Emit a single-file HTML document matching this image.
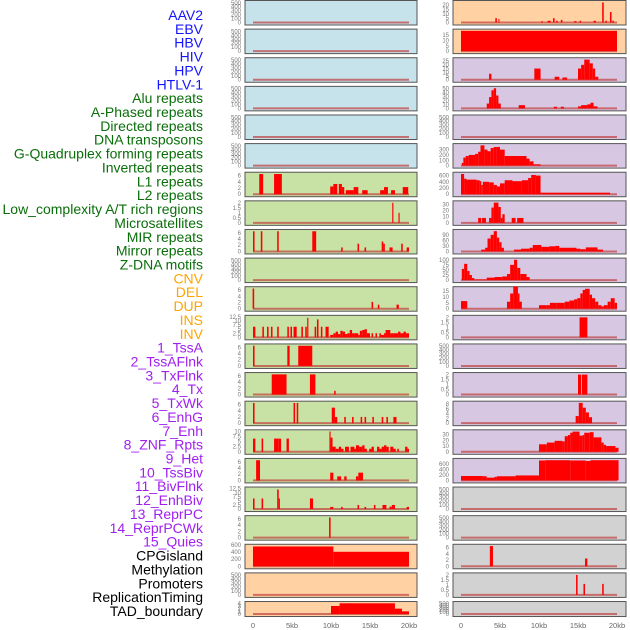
<!DOCTYPE html>
<html><head><meta charset="utf-8">
<style>
body{margin:0;background:#fff;}
svg{display:block;font-family:"Liberation Sans",sans-serif;}
</style></head>
<body>
<svg id="chart" width="630" height="630" viewBox="0 0 630 630" xmlns="http://www.w3.org/2000/svg"></svg>
<script>
// ---- data ----
const trackLabels = ["AAV2","EBV","HBV","HIV","HPV","HTLV-1","Alu repeats","A-Phased repeats","Directed repeats","DNA transposons","G-Quadruplex forming repeats","Inverted repeats","L1 repeats","L2 repeats","Low_complexity A/T rich regions","Microsatellites","MIR repeats","Mirror repeats","Z-DNA motifs","CNV","DEL","DUP","INS","INV","1_TssA","2_TssAFlnk","3_TxFlnk","4_Tx","5_TxWk","6_EnhG","7_Enh","8_ZNF_Rpts","9_Het","10_TssBiv","11_BivFlnk","12_EnhBiv","13_ReprPC","14_ReprPCWk","15_Quies","CPGisland","Methylation","Promoters","ReplicationTiming","TAD_boundary"];
const labelGroups = [6,13,5,15,5];
const xTickLabels = ["0","5kb","10kb","15kb","20kb"];
const xTickValues = [0,5,10,15,20];
const emptyTicks = [0,100,200,300,400,500];

// left column segments [startKb, endKb, value]
const segL7 = [[0.8,1.3,6.5],[2.7,3.7,6.5],[9.9,10.3,2.5],[10.3,10.8,3.3],[11.0,11.4,3.3],[11.4,11.7,2.3],[11.9,12.9,1.3],[12.9,13.5,2.3],[14.0,14.7,1.3],[16.3,16.8,1.3],[16.8,17.3,2.3],[17.7,18.2,1.3],[19.2,19.9,2.3]];
const segL8 = [[17.85,18.0,2.0],[18.65,18.8,1.0]];
const segL9 = [[0.0,0.2,6.5],[1.0,1.2,6.5],[3.1,3.3,6.5],[7.6,8.1,6.5],[11.3,11.5,1.3],[13.4,13.6,2.5],[14.3,14.5,1.3],[16.5,16.7,3.2],[16.7,16.9,2.5],[17.5,17.9,1.3],[19.0,19.2,2.5],[19.7,20.0,1.3]];
const segL11 = [[-0.05,0.15,6.5],[15.2,15.4,2.2],[16.0,16.2,1.3],[18.4,18.7,1.3]];
const segL12 = [[0.0,0.3,6.5],[1.2,1.4,6.5],[1.8,2.0,6.5],[2.3,2.5,6.5],[3.1,3.3,6.5],[4.4,4.6,6.5],[4.8,5.0,6.5],[5.2,5.6,6.5],[6.2,6.4,6.5],[6.7,6.9,6.5],[6.95,7.1,12],[7.9,8.1,6.5],[8.2,8.4,11],[8.7,8.9,6.5],[9.3,9.7,6.5],[9.9,10.3,1.5],[10.3,10.6,2.5],[10.6,10.9,3.5],[10.9,11.2,2],[11.2,11.5,4],[11.5,11.8,3.5],[11.8,12.1,2],[12.1,12.4,2.5],[12.4,12.7,4.5],[12.7,13.0,2.5],[13.0,13.5,2.5],[13.5,13.7,1.5],[13.7,14.0,4],[14.0,14.3,4.5],[14.3,14.6,5],[14.6,15.0,2.5],[15.2,15.4,2.5],[15.7,15.9,2.5],[16.2,16.4,2.5],[16.4,16.8,1.5],[16.8,17.0,2.5],[17.0,17.3,4.5],[17.3,17.6,4.5],[17.6,18.0,2.5],[18.0,18.6,2.5],[18.6,18.9,3.5],[18.9,19.3,2.5],[19.3,19.6,3.5],[19.6,20.0,2.5]];
const segL13 = [[0.0,0.2,6.5],[4.4,4.7,6.5],[5.8,7.6,6.5]];
const segL14 = [[2.4,4.3,6.5],[7.3,8.0,6.5],[10.4,10.6,1.2]];
const segL15 = [[0.0,0.2,6.5],[5.2,5.4,6.5],[5.6,5.8,6.5],[10.1,10.5,5],[10.5,10.8,2],[11.7,11.9,2],[12.7,12.9,2],[13.8,14.0,2],[14.3,14.5,2],[15.3,15.5,2],[16.5,16.7,2],[17.1,17.3,2],[18.0,18.4,2]];
const segL16 = [[0.0,0.3,6.5],[1.1,1.3,6.5],[2.7,3.3,6.5],[3.3,3.6,6.5],[4.3,4.6,6.5],[9.8,9.95,10],[9.95,10.2,7],[10.2,10.6,2.5],[10.6,11.0,1.5],[11.0,11.3,2.5],[11.3,11.6,1.5],[11.8,12.3,2.5],[12.5,13.0,2.5],[13.0,13.2,1.5],[13.2,13.6,3.2],[13.6,14.0,2.5],[14.0,14.3,3.2],[14.3,14.6,1.5],[14.9,15.2,1.5],[15.2,15.5,2.5],[15.9,16.2,2.5],[16.2,16.5,1.5],[16.5,16.8,2.5],[16.8,17.1,3.2],[17.1,17.4,2.5],[17.6,18.0,2.5],[18.0,18.3,1.5],[18.5,18.7,1.5],[19.5,19.8,2.5],[19.8,20.0,1.5]];
const segL17 = [[0.4,0.9,6.5],[9.9,10.3,2.5],[10.8,11.3,1.3],[11.7,12.0,1.3],[13.2,13.5,1.3],[13.5,14.1,2.5]];
const segL18 = [[0.0,0.2,6.5],[1.1,1.3,6.5],[3.1,3.3,12],[3.3,3.45,6.5],[7.3,7.7,6.5],[9.9,10.3,1.3],[11.3,11.5,1.3],[13.4,13.6,2.5],[14.3,14.5,1.3],[15.5,15.7,2.5],[16.6,17.1,2.5],[17.5,17.8,1.5],[17.8,18.2,2.5],[19.7,20.0,1.3]];
const segL19 = [[9.75,9.95,6.5]];
const segL20 = [[0.0,10.3,560],[10.3,20.0,410]];
const segL22 = [[10.0,11.1,3],[11.1,18.2,4],[18.2,19.1,2],[19.1,20.0,1]];

// right column segments
const segR1 = [[4.4,4.6,5],[4.8,4.9,4],[10.3,10.5,1.5],[11.1,11.5,2],[11.8,12.0,5],[12.2,12.4,2],[12.8,13.0,3],[14.5,14.8,1.5],[15.2,15.4,2],[17.0,17.3,2],[18.1,18.3,23],[18.5,18.7,2],[19.1,19.3,12],[19.4,19.6,2]];
const segR2 = [[0.0,20.0,19]];
const segR3 = [[3.6,3.9,8],[9.4,10.2,15],[12.0,12.6,4],[13.0,13.6,3],[15.0,15.4,15],[15.4,15.8,20],[15.8,16.5,27],[16.5,16.9,22],[16.9,17.2,15],[17.2,17.6,4]];
const segR4 = [[3.3,3.6,12],[3.6,3.9,28],[3.9,4.2,45],[4.2,4.5,50],[4.5,4.8,32],[4.8,5.1,12],[7.4,8.2,8],[11.9,12.3,4],[12.8,13.2,4],[15.0,15.4,5],[15.4,16.2,8],[16.2,16.6,10],[16.6,17.0,14],[17.0,17.5,5]];
const segR6 = [[0.1,0.3,50],[0.3,0.6,150],[0.6,1.0,180],[1.0,1.8,200],[1.8,2.2,220],[2.2,2.5,260],[2.5,3.0,380],[3.0,3.4,300],[3.4,3.8,270],[3.8,4.2,330],[4.2,4.6,350],[4.6,5.0,350],[5.0,5.6,300],[5.6,8.4,180],[8.4,8.8,130],[8.8,9.3,80],[9.3,10.2,25]];
const segR7 = [[0.0,0.4,650],[0.4,0.7,500],[0.7,2.0,470],[2.0,2.4,450],[2.4,2.6,420],[2.6,2.8,300],[2.8,3.6,400],[3.6,4.2,380],[4.2,4.6,300],[4.6,5.0,250],[5.0,5.6,350],[5.6,6.6,450],[6.6,7.8,420],[7.8,8.6,450],[8.6,9.0,520],[9.0,9.6,620],[9.6,10.2,600],[10.2,19.1,50]];
const segR8 = [[2.2,2.6,8],[2.7,3.2,8],[3.6,3.9,8],[3.9,4.2,25],[4.2,4.8,33],[4.8,5.1,26],[5.1,5.3,8],[5.3,5.6,14],[6.5,7.0,8],[7.2,8.0,8]];
const segR9 = [[2.6,3.1,10],[3.1,3.4,20],[3.4,3.8,70],[3.8,4.2,90],[4.2,4.6,110],[4.6,4.9,75],[4.9,5.2,50],[5.2,5.5,20],[6.8,7.7,10],[7.7,8.8,15],[8.8,9.2,20],[9.2,10.3,35],[10.3,11.3,25],[11.3,12.1,28],[12.1,12.6,30],[12.6,14.8,20],[14.8,15.3,15],[15.3,16.0,12],[16.0,17.5,22],[17.5,18.2,10]];
const segR10 = [[0.1,0.4,55],[0.4,0.8,80],[0.8,1.1,45],[1.1,1.4,25],[1.4,1.7,10],[1.7,3.3,3],[3.3,4.3,12],[4.3,5.3,15],[5.3,5.9,18],[5.9,6.3,30],[6.3,6.8,75],[6.8,7.2,100],[7.2,7.6,60],[7.6,8.4,30],[8.4,8.8,15]];
const segR11 = [[0.0,0.8,6.5],[5.9,6.3,6],[6.3,6.7,13],[6.7,7.3,19],[7.3,7.5,13],[7.5,7.8,6],[10.0,11.0,3],[11.0,11.4,3],[11.4,12.2,5],[12.2,13.3,5],[13.3,13.9,6],[13.9,14.5,7],[14.5,14.9,8],[14.9,15.3,9],[15.3,15.6,13],[15.6,15.9,16],[15.9,16.5,17],[16.5,16.8,12],[16.8,17.2,9],[17.2,17.6,6],[17.6,18.0,3],[18.0,18.3,2],[18.3,18.8,3],[18.8,19.2,6],[19.2,19.7,9],[19.7,20.0,5]];
const segR12 = [[15.2,16.2,2]];
const segR14 = [[15.0,15.4,2],[15.5,16.2,2]];
const segR15 = [[14.7,15.1,3],[15.1,15.6,8.5],[15.6,16.0,6.5],[16.0,16.4,4.5],[16.4,16.8,2.5]];
const segR16 = [[10.0,11.0,13],[11.0,12.0,16],[12.0,13.0,19],[13.0,13.3,18],[13.3,13.7,27],[13.7,14.0,29],[14.0,14.3,33],[14.3,15.2,35],[15.2,15.6,28],[15.6,15.8,29],[15.8,16.5,33],[16.5,17.0,34],[17.0,18.0,25],[18.0,18.3,16],[18.3,18.6,12],[18.6,19.8,10],[19.8,20.2,7]];
const segR17 = [[0.0,2.8,160],[2.8,3.3,150],[3.3,4.3,100],[4.3,4.6,130],[4.6,7.0,150],[7.0,10.0,180],[10.0,10.8,720],[10.8,14.0,730],[14.0,16.0,720],[16.0,16.6,700],[16.6,20.2,730]];
const segR20 = [[3.7,4.1,6.5],[15.9,16.2,2.5]];
const segR21 = [[14.75,14.95,2],[15.7,15.9,1.1],[18.1,18.3,1.1]];

const ticksSmall6 = [0,2,4,6];
const ticks2 = [0,0.5,1.0,1.5,2.0];
const ticks12 = [0,2.5,5.0,7.5,10.0,12.5];

const BLUE="#c6e2ea",GREEN="#c8e1a4",ORANGE="#ffd1a3",PURPLE="#d7c7e2",GRAY="#d2d2d2";
const leftTracks = [
 [[],emptyTicks,520,BLUE],[[],emptyTicks,520,BLUE],[[],emptyTicks,520,BLUE],[[],emptyTicks,520,BLUE],[[],emptyTicks,520,BLUE],[[],emptyTicks,520,BLUE],
 [segL7,ticksSmall6,6.6,GREEN],[segL8,ticks2,2.05,GREEN],[segL9,ticksSmall6,6.6,GREEN],[[],emptyTicks,520,GREEN],[segL11,ticksSmall6,6.6,GREEN],[segL12,ticks12,12.6,GREEN],[segL13,ticksSmall6,6.6,GREEN],[segL14,ticksSmall6,6.6,GREEN],[segL15,ticksSmall6,6.6,GREEN],[segL16,[0,2.5,5.0,7.5,10.0],10.1,GREEN],[segL17,ticksSmall6,6.6,GREEN],[segL18,ticks12,12.6,GREEN],[segL19,ticksSmall6,6.6,GREEN],
 [segL20,[0,200,400,600],580,ORANGE],[[],emptyTicks,520,ORANGE],[segL22,[0,1,2,3,4],4.1,ORANGE]
];
const rightTracks = [
 [segR1,[0,5,10,15,20],23.5,ORANGE],[segR2,[0,5,10,15],19.2,ORANGE],
 [segR3,[0,5,10,15,20,25],27.5,PURPLE],[segR4,[0,10,20,30,40,50],51,PURPLE],[[],emptyTicks,520,PURPLE],[segR6,[0,100,200,300],385,PURPLE],[segR7,[0,200,400,600],660,PURPLE],[segR8,[0,10,20,30],33.5,PURPLE],[segR9,[0,30,60,90],111,PURPLE],[segR10,[0,25,50,75,100],101,PURPLE],[segR11,[0,5,10,15],17.5,PURPLE],[segR12,ticks2,2.05,PURPLE],[[],emptyTicks,520,PURPLE],[segR14,ticks2,2.05,PURPLE],[segR15,[0,2,4,6,8],8.6,PURPLE],[segR16,[0,10,20,30],35.5,PURPLE],[segR17,[0,200,400,600],740,PURPLE],
 [[],emptyTicks,520,GRAY],[[],emptyTicks,520,GRAY],[segR20,ticksSmall6,6.6,GRAY],[segR21,ticks2,2.05,GRAY],[[],emptyTicks,520,GRAY]
];

// ---- drawing ----
const NS="http://www.w3.org/2000/svg";
const svg=document.getElementById('chart');
function mk(tag,attrs,parent){const e=document.createElementNS(NS,tag);for(const k in attrs)e.setAttribute(k,attrs[k]);(parent||svg).appendChild(e);return e;}

const labelColors=["#1414ff","#0a6e0a","#ffa500","#a020f0","#000000"];
let gi=0,cnt=0;
trackLabels.forEach((t,i)=>{
  while(cnt>=labelGroups[gi]){cnt-=labelGroups[gi];gi++;}
  cnt++;
  const el=mk('text',{x:203,y:15+i*13.86+5,'text-anchor':'end','font-size':'14',fill:labelColors[gi]});
  el.textContent=t;
  
  
});

const pitch=28.62;
function drawColumn(tracks,px0,px1,x0kb,side){
  const xs=kb=>x0kb+kb*7.8;
  tracks.forEach((tr,i)=>{
    const [segs,ticks,ymax,bg]=tr;
    const top=i*pitch+0.5;
    const h=(i===tracks.length-1)?15:24.5;
    const g=mk('g',{});
    
    
    mk('rect',{x:px0,y:top,width:px1-px0,height:h,fill:bg,stroke:'#555',"stroke-width":1},g);
    const base=top+h-2.5;
    const ys=v=>base-v/ymax*(h-4);
    mk('line',{x1:xs(0),x2:xs(20),y1:base,y2:base,stroke:'#c04040','stroke-width':2,'stroke-opacity':0.7},g);
    segs.forEach(s=>{
      const r=mk('rect',{x:xs(s[0]),y:ys(s[2]),width:Math.max(xs(s[1])-xs(s[0]),1),height:base-ys(s[2]),fill:'#ff0000'},g);
      
      
    });
    ticks.forEach(tv=>{
      const tt=mk('text',{x:px0-4,y:ys(tv)+2,'text-anchor':'end','font-size':'6',fill:'#777'},g);
      tt.textContent=String(tv);
    });
  });
  xTickValues.forEach((v,k)=>{
    const t=mk('text',{x:xs(v),y:628,'text-anchor':'middle','font-size':'7.5',fill:'#666'});
    t.textContent=xTickLabels[k];
    
    
  });
}
drawColumn(leftTracks,245,417,253,'left');
drawColumn(rightTracks,453,626,461,'right');
</script>
</body></html>
